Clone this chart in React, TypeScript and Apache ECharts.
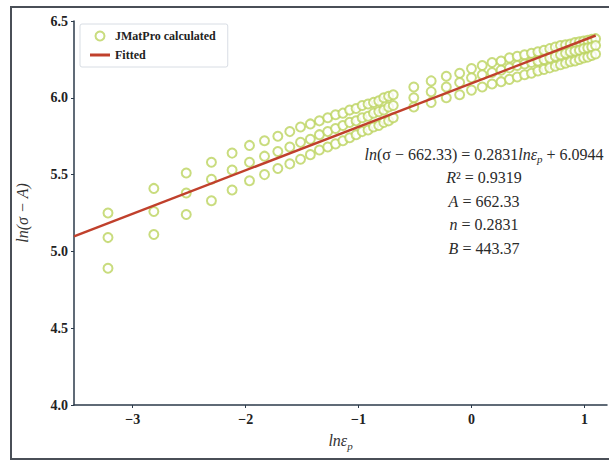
import React, { useEffect, useRef } from "react";
import * as echarts from "echarts";

// ln(strain) values (x) shared by the three rows of JMatPro points
const lnStrain = [
  -3.219, -2.813, -2.526, -2.303, -2.12, -1.966, -1.833, -1.715, -1.609, -1.514,
  -1.427, -1.347, -1.273, -1.204, -1.139, -1.079, -1.022, -0.968, -0.916, -0.868,
  -0.821, -0.777, -0.734, -0.693, -0.511, -0.357, -0.223, -0.105, 0, 0.095,
  0.182, 0.262, 0.336, 0.405, 0.47, 0.531, 0.588, 0.642, 0.693, 0.742,
  0.788, 0.833, 0.875, 0.916, 0.956, 0.993, 1.03, 1.065, 1.099,
];
const rowTop = [
  5.25, 5.41, 5.51, 5.58, 5.64, 5.69, 5.72, 5.75, 5.78, 5.81,
  5.83, 5.85, 5.87, 5.89, 5.9, 5.92, 5.93, 5.95, 5.96, 5.97,
  5.98, 6.0, 6.01, 6.02, 6.07, 6.11, 6.14, 6.16, 6.19, 6.21,
  6.23, 6.24, 6.26, 6.27, 6.28, 6.29, 6.3, 6.31, 6.32, 6.33,
  6.34, 6.345, 6.35, 6.36, 6.365, 6.37, 6.375, 6.38, 6.385,
];
const rowMid = [
  5.09, 5.26, 5.38, 5.47, 5.53, 5.58, 5.62, 5.65, 5.68, 5.71,
  5.73, 5.76, 5.78, 5.8, 5.82, 5.84, 5.85, 5.87, 5.88, 5.9,
  5.91, 5.92, 5.94, 5.95, 6.0, 6.04, 6.07, 6.1, 6.13, 6.15,
  6.165, 6.18, 6.195, 6.21, 6.22, 6.23, 6.24, 6.25, 6.26, 6.27,
  6.28, 6.29, 6.3, 6.305, 6.31, 6.32, 6.325, 6.33, 6.34,
];
const rowBot = [
  4.89, 5.11, 5.24, 5.33, 5.4, 5.46, 5.5, 5.54, 5.57, 5.6,
  5.63, 5.66, 5.68, 5.7, 5.72, 5.74, 5.76, 5.78, 5.79, 5.81,
  5.82, 5.84, 5.85, 5.87, 5.94, 5.97, 6.0, 6.02, 6.05, 6.07,
  6.09, 6.105, 6.12, 6.135, 6.15, 6.16, 6.175, 6.185, 6.195, 6.205,
  6.215, 6.225, 6.235, 6.24, 6.25, 6.26, 6.265, 6.275, 6.285,
];
const fitSlope = 0.2831;
const fitIntercept = 6.0944;
const fitRange = [-3.52, 1.1];
const xTicks = [-3, -2, -1, 0, 1];
const annotationLines = [
  "{i|ln}(σ − 662.33) = 0.2831{i|lnε}{s|p} + 6.0944",
  "{i|R}² = 0.9319",
  "{i|A} = 662.33",
  "{i|n} = 0.2831",
  "{i|B} = 443.37",
];

const SERIF = "'Liberation Serif', 'Times New Roman', serif";

export default function App() {
  const ref = useRef<HTMLDivElement>(null);
  useEffect(() => {
    if (!ref.current) return;
    const chart = echarts.init(ref.current, undefined, { renderer: "svg" });
    const scatterData: number[][] = [];
    [rowTop, rowMid, rowBot].forEach((row) =>
      row.forEach((v, i) => scatterData.push([lnStrain[i], v]))
    );
    const fitData = fitRange.map((x) => [x, fitSlope * x + fitIntercept]);
    const richBase = {
      i: { fontFamily: SERIF, fontStyle: "italic", fontSize: 16, color: "#2a2a2a", lineHeight: 21 },
      s: { fontFamily: SERIF, fontStyle: "italic", fontSize: 11, color: "#2a2a2a", verticalAlign: "bottom" },
    };
    chart.setOption({
      animation: false,
      backgroundColor: "#ffffff",
      grid: { left: 74, right: 2, top: 21, bottom: 56, containLabel: false },
      legend: {
        left: 80,
        top: 24,
        orient: "vertical",
        borderColor: "#d8dde4",
        borderWidth: 1,
        borderRadius: 2,
        padding: [6, 12, 6, 10],
        itemGap: 7,
        itemWidth: 20,
        itemHeight: 9,
        symbolKeepAspect: true,
        textStyle: { fontFamily: SERIF, fontWeight: "bold", fontSize: 12, color: "#222" },
        data: [
          { name: "JMatPro calculated", icon: "emptyCircle" },
          { name: "Fitted", icon: "path://M0,0L20,0L20,3L0,3Z" },
        ],
      },
      xAxis: {
        type: "value",
        min: -3.52,
        max: 1.2,
        name: "{a|lnε}{b|p}",
        nameLocation: "middle",
        nameGap: 24,
        nameTextStyle: {
          rich: {
            a: { fontFamily: SERIF, fontStyle: "italic", fontSize: 16, color: "#333", lineHeight: 22 },
            b: { fontFamily: SERIF, fontStyle: "italic", fontSize: 11, color: "#333", verticalAlign: "bottom" },
          },
        },
        splitLine: { show: false },
        axisLine: { onZero: false, lineStyle: { color: "#2b3a4a", width: 1.5 } },
        axisTick: { length: 3, customValues: xTicks, lineStyle: { color: "#2b3a4a" } },
        axisLabel: {
          customValues: xTicks,
          margin: 7,
          fontFamily: SERIF,
          fontWeight: "bold",
          fontSize: 14,
          color: "#222",
          formatter: (v: number) => (v < 0 ? "\u2212" + Math.abs(v) : String(v)),
        },
      },
      yAxis: {
        type: "value",
        min: 4,
        max: 6.5,
        interval: 0.5,
        name: "ln(σ − A)",
        nameLocation: "middle",
        nameGap: 44,
        nameTextStyle: { fontFamily: SERIF, fontStyle: "italic", fontSize: 16, color: "#333" },
        splitLine: { show: false },
        axisLine: { show: true, onZero: false, lineStyle: { color: "#2b3a4a", width: 1.5 } },
        axisTick: { show: true, length: 3, lineStyle: { color: "#2b3a4a" } },
        axisLabel: {
          margin: 6,
          fontFamily: SERIF,
          fontWeight: "bold",
          fontSize: 14,
          color: "#222",
          formatter: (v: number) => v.toFixed(1),
        },
      },
      series: [
        {
          name: "JMatPro calculated",
          type: "scatter",
          symbol: "emptyCircle",
          symbolSize: 9,
          itemStyle: { color: "#bcd35e", borderWidth: 1.5 },
          data: scatterData,
          z: 2,
        },
        {
          name: "Fitted",
          type: "line",
          showSymbol: false,
          symbol: "none",
          lineStyle: { color: "#c0402c", width: 2.5 },
          itemStyle: { color: "#c0402c" },
          data: fitData,
          z: 3,
        },
      ],
      graphic: [
        {
          type: "rect",
          x: 11,
          y: 7,
          shape: { x: 0, y: 0, width: 612, height: 452 },
          style: { fill: "none", stroke: "#4a4f57", lineWidth: 2 },
          silent: true,
        },
        ...annotationLines.map((t, k) => ({
          type: "text",
          x: 484,
          y: 154 + k * 23.5,
          style: {
            text: t,
            align: "center",
            verticalAlign: "middle",
            fontFamily: SERIF,
            fontSize: 16,
            fill: "#2a2a2a",
            rich: richBase,
          },
          z: 10,
        })),
      ],
    });
    return () => chart.dispose();
  }, []);
  return (
    <div
      ref={ref}
      style={{ position: "fixed", left: 0, top: 0, width: 609, height: 461 }}
    />
  );
}
